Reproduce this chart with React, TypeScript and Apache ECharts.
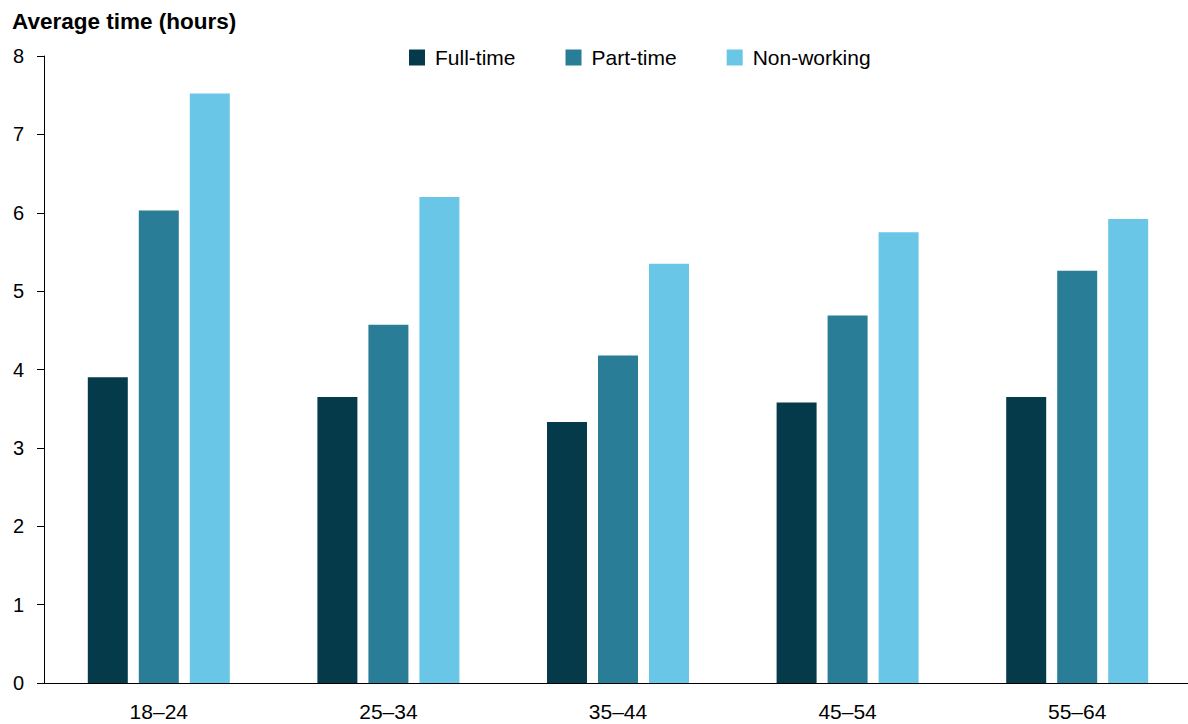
import React, { useEffect, useRef } from "react";
import * as echarts from "echarts";

const categories = ["18–24", "25–34", "35–44", "45–54", "55–64"];
const fullTime = [3.9, 3.65, 3.33, 3.58, 3.65];
const partTime = [6.03, 4.57, 4.18, 4.69, 5.26];
const nonWorking = [7.52, 6.2, 5.35, 5.75, 5.92];
const yTicks = [0, 1, 2, 3, 4, 5, 6, 7, 8];

const FONT = "'Liberation Sans', Arial, sans-serif";

export default function App() {
  const ref = useRef<HTMLDivElement>(null);
  useEffect(() => {
    document.body.style.margin = "0";
    document.body.style.overflow = "hidden";
    if (!ref.current) return;
    const chart = echarts.init(ref.current, undefined, { renderer: "svg" });
    chart.setOption({
      animation: false,
      textStyle: { fontFamily: FONT },
      title: {
        text: "Average time (hours)",
        left: 12,
        top: 10,
        padding: 0,
        textStyle: { fontFamily: FONT, fontSize: 22.5, fontWeight: "bold", color: "#000" },
      },
      legend: {
        left: 404,
        top: 42,
        itemWidth: 16,
        itemHeight: 16,
        itemGap: 50,
        icon: "rect",
        textStyle: { fontFamily: FONT, fontSize: 21, color: "#000", padding: [0, 0, 0, 5] },
        data: ["Full-time", "Part-time", "Non-working"],
      },
      grid: { left: 44, right: 0, top: 56, bottom: 41, containLabel: false },
      xAxis: {
        type: "category",
        data: categories,
        axisLine: { lineStyle: { color: "#000", width: 1 } },
        axisTick: { show: false },
        axisLabel: { fontFamily: FONT, fontSize: 21, color: "#000", margin: 18 },
      },
      yAxis: {
        type: "value",
        min: yTicks[0],
        max: yTicks[yTicks.length - 1],
        interval: 1,
        axisLine: { show: true, lineStyle: { color: "#000", width: 1 } },
        axisTick: { show: true, length: 7, lineStyle: { color: "#000" } },
        splitLine: { show: false },
        axisLabel: { fontFamily: FONT, fontSize: 20, color: "#000", margin: 20 },
      },
      series: [
        { name: "Full-time", type: "bar", data: fullTime, barWidth: 40, barGap: "27.5%", itemStyle: { color: "#053A4B" } },
        { name: "Part-time", type: "bar", data: partTime, barWidth: 40, barGap: "27.5%", itemStyle: { color: "#2A7D97" } },
        { name: "Non-working", type: "bar", data: nonWorking, barWidth: 40, barGap: "27.5%", itemStyle: { color: "#69C6E6" } },
      ],
    });
    return () => chart.dispose();
  }, []);
  return (
    <div style={{ width: 1188, height: 724, overflow: "hidden", position: "relative" }}>
      <div ref={ref} style={{ width: 1192, height: 724 }} />
    </div>
  );
}
